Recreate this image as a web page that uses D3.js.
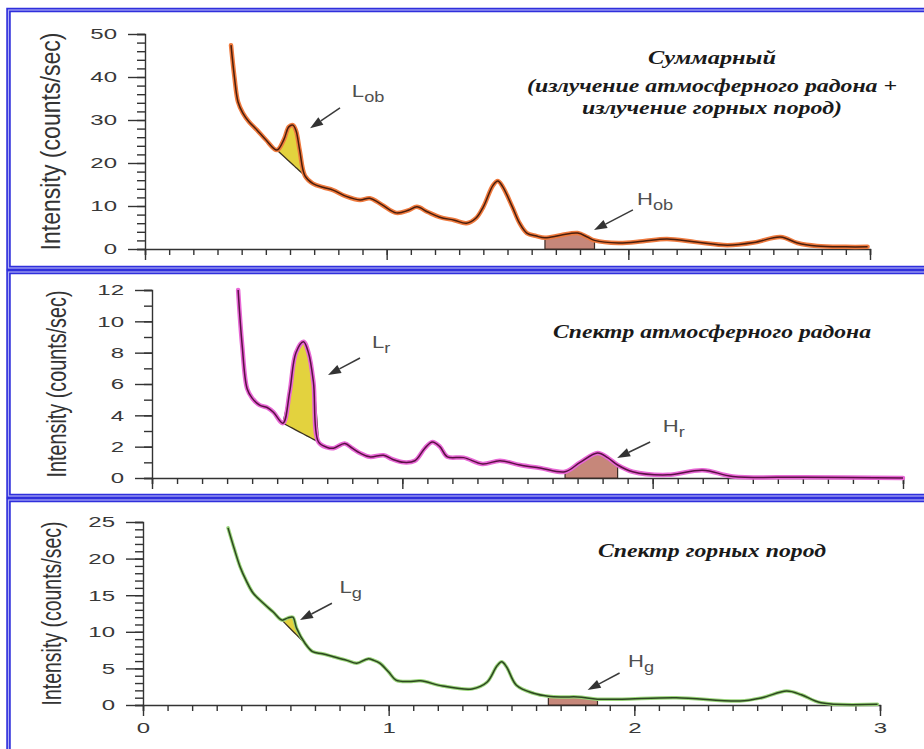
<!DOCTYPE html>
<html>
<head>
<meta charset="utf-8">
<script src="https://cdn.jsdelivr.net/npm/d3@7"></script>
<style>
  body { margin: 0; background: #fff; }
  svg { display: block; }
</style>
</head>
<body>
<svg id="chart" width="924" height="749"></svg>
<script>
// energy (MeV), intensity (counts/sec)
const sumSpectrum = [
  [0.356, 47.4], [0.37, 40], [0.385, 34.2], [0.405, 31.6], [0.43, 29.6], [0.463, 27.7],
  [0.5, 25.4], [0.546, 23.0], [0.575, 25.5], [0.595, 28.4], [0.612, 28.8], [0.625, 27.5],
  [0.64, 23], [0.662, 17.0], [0.695, 15.2], [0.74, 14.3], [0.778, 13.7], [0.83, 12.3],
  [0.89, 11.4], [0.93, 11.8], [0.98, 10.3], [1.04, 8.4], [1.09, 9.0], [1.125, 9.8],
  [1.17, 8.6], [1.22, 7.4], [1.28, 6.7], [1.33, 6.0], [1.37, 7.2], [1.4, 9.8], [1.44, 14.8],
  [1.46, 15.8], [1.48, 14.5], [1.52, 9.8], [1.55, 6], [1.58, 3.7], [1.62, 3.0], [1.655, 2.6],
  [1.72, 3.2], [1.79, 3.7], [1.83, 2.8], [1.86, 2.0], [1.96, 1.4], [2.06, 1.8], [2.16, 2.3],
  [2.28, 1.6], [2.41, 0.9], [2.52, 1.5], [2.63, 2.8], [2.7, 1.4], [2.78, 0.7], [2.9, 0.5],
  [2.99, 0.5]
];
const radonSpectrum = [
  [0.344, 12], [0.36, 8.5], [0.38, 5.7], [0.4, 5.1], [0.43, 4.65], [0.46, 4.5], [0.485, 4.2],
  [0.523, 3.5], [0.55, 5.5], [0.575, 8.0], [0.605, 8.7], [0.625, 8.0], [0.645, 6.1],
  [0.665, 2.3], [0.7, 1.95], [0.725, 1.9], [0.77, 2.2], [0.8, 1.9], [0.83, 1.6], [0.87, 1.35],
  [0.925, 1.45], [0.96, 1.2], [1.005, 1.0], [1.05, 1.1], [1.09, 1.9], [1.12, 2.3], [1.15, 2.0],
  [1.18, 1.35], [1.245, 1.3], [1.32, 0.9], [1.39, 1.1], [1.47, 0.83], [1.55, 0.64],
  [1.65, 0.4], [1.71, 1.0], [1.78, 1.6], [1.82, 1.3], [1.86, 0.83], [1.92, 0.4], [2.06, 0.2],
  [2.2, 0.5], [2.32, 0.1], [2.6, 0.05], [3.0, 0]
];
const rockSpectrum = [
  [0.346, 24.2], [0.37, 21.5], [0.395, 18.9], [0.42, 17], [0.448, 15.3], [0.49, 13.9],
  [0.53, 12.7], [0.565, 11.6], [0.59, 11.9], [0.61, 12.0], [0.625, 10.5], [0.66, 8.4],
  [0.69, 7.3], [0.73, 7.0], [0.775, 6.6], [0.83, 6.1], [0.87, 5.7], [0.915, 6.3], [0.94, 6.1],
  [0.965, 5.7], [1.0, 4.5], [1.03, 3.4], [1.08, 3.2], [1.13, 3.3], [1.22, 2.6], [1.34, 2.2],
  [1.4, 3.1], [1.44, 5.3], [1.46, 5.9], [1.48, 5.2], [1.52, 2.7], [1.59, 1.6], [1.65, 1.2],
  [1.71, 1.1], [1.77, 1.1], [1.85, 0.8], [1.95, 0.8], [2.17, 1.0], [2.43, 0.55], [2.52, 1.0],
  [2.62, 1.9], [2.68, 1.4], [2.76, 0.3], [2.99, 0.1]
];

// energy windows [from, to]
const sumWindows = { low: [0.546, 0.662], high: [1.655, 1.86] };
const radonWindows = { low: [0.523, 0.665], high: [1.65, 1.86] };
const rockWindows = { low: [0.565, 0.66], high: [1.65, 1.85] };

const sumTitle = ["Суммарный", "(излучение атмосферного радона +", "излучение горных пород)"];
const radonTitle = ["Спектр атмосферного радона"];
const rockTitle = ["Спектр горных пород"];
const yLabel = "Intensity (counts/sec)";
const xTickLabels = [0, 1, 2, 3];

const svg = d3.select("#chart");

const panels = [
  {
    frame: [8.5, 10, 930, 258], left: 145, right: 870, top: 34, bottom: 249,
    yMax: 50, yMajor: 10, yMinor: 2, spectrum: sumSpectrum, windows: sumWindows,
    glow: "#ef7a3e", core: "#4a1e0c", glowWidth: 4.5,
    title: sumTitle, titleY: [64, 92, 114], titleW: [128, 370, 260],
    labelX: 60, labelLen: 218,
    notes: [
      { main: "L", sub: "ob", text: [0.856, 35.3], tail: [0.807, 32.8], tip: [0.683, 28.1] },
      { main: "H", sub: "ob", text: [2.036, 10.2], tail: [2.019, 9.1], tip: [1.858, 4.4] }
    ]
  },
  {
    frame: [8.5, 272, 930, 224], left: 152, right: 903, top: 290, bottom: 478,
    yMax: 12, yMajor: 2, yMinor: 1, spectrum: radonSpectrum, windows: radonWindows,
    glow: "#e868d6", core: "#5a1044", glowWidth: 4.5,
    title: radonTitle, titleY: [338], titleW: [318],
    labelX: 66, labelLen: 187,
    notes: [
      { main: "L", sub: "r", text: [0.879, 8.3], tail: [0.831, 7.66], tip: [0.703, 6.57] },
      { main: "H", sub: "r", text: [2.04, 2.94], tail: [1.99, 2.3], tip: [1.858, 1.28] }
    ]
  },
  {
    frame: [8.5, 500, 930, 260], left: 143, right: 880, top: 522, bottom: 705,
    yMax: 25, yMajor: 5, yMinor: 1, spectrum: rockSpectrum, windows: rockWindows,
    glow: "#9ad47a", core: "#2c4620", glowWidth: 3.5,
    title: rockTitle, titleY: [557], titleW: [228],
    labelX: 61, labelLen: 184, xLabels: true,
    notes: [
      { main: "L", sub: "g", text: [0.8, 15.3], tail: [0.769, 13.9], tip: [0.639, 11.6] },
      { main: "H", sub: "g", text: [1.974, 5.19], tail: [1.94, 4.37], tip: [1.81, 2.05] }
    ]
  }
];

panels.forEach(drawPanel);

function drawPanel(p) {
  const x = d3.scaleLinear().domain([0, 3]).range([p.left, p.right]);
  const y = d3.scaleLinear().domain([0, p.yMax]).range([p.bottom, p.top]);
  const g = svg.append("g");

  // blue double frame
  const [fx, fy, fw, fh] = p.frame;
  g.append("rect").attr("x", fx).attr("y", fy).attr("width", fw).attr("height", fh)
    .attr("fill", "none").attr("stroke", "#2f2fdc").attr("stroke-width", 4.5);
  g.append("rect").attr("x", fx).attr("y", fy).attr("width", fw).attr("height", fh)
    .attr("fill", "none").attr("stroke", "#aeaef6").attr("stroke-width", 1.2);

  // titles
  g.append("g").selectAll("text")
    .data(p.title)
    .join("text")
    .attr("x", 712)
    .attr("y", (_, i) => p.titleY[i])
    .attr("text-anchor", "middle")
    .attr("font-family", "Liberation Serif, Times New Roman, serif")
    .attr("font-weight", "bold")
    .attr("font-style", "italic")
    .attr("font-size", 19)
    .attr("fill", "#1a1a1a")
    .attr("textLength", (_, i) => p.titleW[i])
    .attr("lengthAdjust", "spacingAndGlyphs")
    .text((d) => d);

  // y axis: minor then major
  const minorY = g.append("g").attr("transform", `translate(${p.left},0)`)
    .call(d3.axisLeft(y).tickValues(d3.range(0, p.yMax + 1e-9, p.yMinor)).tickSize(8).tickFormat(""));
  const majorY = g.append("g").attr("transform", `translate(${p.left},0)`)
    .call(d3.axisLeft(y).tickValues(d3.range(0, p.yMax + 1e-9, p.yMajor)).tickSize(17).tickPadding(11));
  majorY.select(".domain").remove();
  majorY.selectAll(".tick text")
    .attr("x", -28 / 1.55)
    .attr("transform", "scale(1.55,1)")
    .attr("font-size", 15.5)
    .attr("font-family", "Liberation Sans, Arial, sans-serif")
    .attr("fill", "#383838");

  // x axis: minor then major
  const minorX = g.append("g").attr("transform", `translate(0,${p.bottom})`)
    .call(d3.axisBottom(x).tickValues(d3.range(0, 3.0001, 0.1)).tickSize(6).tickFormat(""));
  const majorX = g.append("g").attr("transform", `translate(0,${p.bottom})`)
    .call(d3.axisBottom(x).tickValues(xTickLabels).tickSize(11).tickPadding(6)
      .tickFormat(p.xLabels ? d3.format("d") : ""));
  majorX.select(".domain").remove();
  majorX.selectAll(".tick text")
    .attr("transform", "scale(1.55,1)")
    .attr("font-size", 15.5)
    .attr("font-family", "Liberation Sans, Arial, sans-serif")
    .attr("fill", "#383838");

  [minorY, majorY, minorX, majorX].forEach((a) => {
    a.selectAll("line,path").attr("stroke", "#333").attr("stroke-width", 1.4);
  });

  // y label
  g.append("text")
    .attr("transform", `translate(${p.labelX},${(p.top + p.bottom) / 2}) scale(1.3,1) rotate(-90)`)
    .attr("text-anchor", "middle")
    .attr("font-family", "Liberation Sans, Arial, sans-serif")
    .attr("font-size", 21)
    .attr("fill", "#333")
    .attr("textLength", p.labelLen)
    .attr("lengthAdjust", "spacingAndGlyphs")
    .text(yLabel);

  const curve = d3.curveCatmullRom.alpha(0.5);
  const inWindow = ([a, b]) => p.spectrum.filter((d) => d[0] >= a - 1e-9 && d[0] <= b + 1e-9);

  // low window: area between the peak and a straight baseline
  const low = inWindow(p.windows.low);
  const l0 = low[0], l1 = low[low.length - 1];
  const base = d3.scaleLinear().domain([l0[0], l1[0]]).range([l0[1], l1[1]]);
  g.append("path")
    .datum(low)
    .attr("d", d3.area().x((d) => x(d[0])).y0((d) => y(base(d[0]))).y1((d) => y(d[1])).curve(curve))
    .attr("fill", "#e3d23e")
    .attr("stroke", "#3a3020")
    .attr("stroke-width", 1.3);

  // high window: area down to zero
  const high = inWindow(p.windows.high);
  g.append("path")
    .datum(high)
    .attr("d", d3.area().x((d) => x(d[0])).y0(y(0)).y1((d) => y(d[1])).curve(curve))
    .attr("fill", "#c6877a")
    .attr("stroke", "#3a2a24")
    .attr("stroke-width", 1.2);

  const line = d3.line().x((d) => x(d[0])).y((d) => y(d[1])).curve(curve);
  g.append("path").datum(p.spectrum).attr("d", line)
    .attr("fill", "none").attr("stroke", p.glow).attr("stroke-width", p.glowWidth)
    .attr("stroke-linejoin", "round").attr("stroke-linecap", "round");
  g.append("path").datum(p.spectrum).attr("d", line)
    .attr("fill", "none").attr("stroke", p.core).attr("stroke-width", 1.5)
    .attr("stroke-linejoin", "round");

  // annotations
  p.notes.forEach((n) => {
    const sx = x(n.tail[0]), sy = y(n.tail[1]);
    const tx = x(n.tip[0]), ty = y(n.tip[1]);
    const len = Math.hypot(tx - sx, ty - sy);
    const ux = (tx - sx) / len, uy = (ty - sy) / len;
    const bx = tx - ux * 13, by = ty - uy * 13;
    g.append("line")
      .attr("x1", sx).attr("y1", sy).attr("x2", bx).attr("y2", by)
      .attr("stroke", "#3a3a3a").attr("stroke-width", 1.5);
    g.append("path")
      .attr("d", `M${tx},${ty}L${bx - uy * 4.5},${by + ux * 4.5}L${bx + uy * 4.5},${by - ux * 4.5}Z`)
      .attr("fill", "#333");

    const t = g.append("text")
      .attr("transform", `translate(${x(n.text[0])},${y(n.text[1])}) scale(1.3,1)`)
      .attr("font-family", "Liberation Sans, Arial, sans-serif")
      .attr("fill", "#505050");
    t.append("tspan").attr("font-size", 17).text(n.main);
    t.append("tspan").attr("font-size", 14).attr("dy", 5).text(n.sub);
  });
}
</script>
</body>
</html>
